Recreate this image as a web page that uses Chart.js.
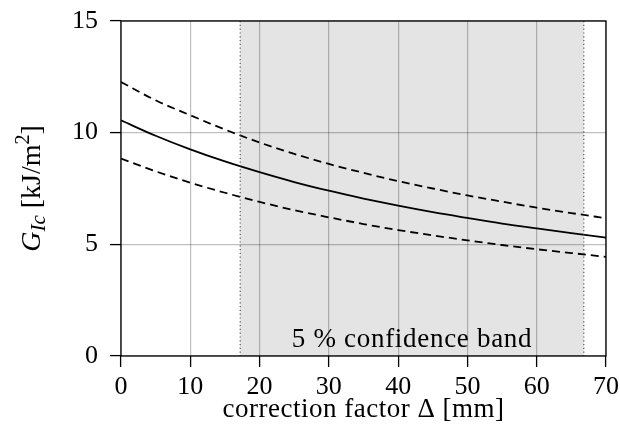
<!DOCTYPE html>
<html>
<head>
<meta charset="utf-8">
<script src="https://cdn.jsdelivr.net/npm/chart.js@4.4.1/dist/chart.umd.min.js"></script>
<style>
  html, body { margin: 0; padding: 0; background: #fff; }
  #wrap { width: 620px; height: 430px; }
</style>
</head>
<body>
<div id="wrap"><canvas id="c" width="620" height="430"></canvas></div>
<script>
// ---- data ----
const deltaMM   = [0, 5, 10, 15, 20, 25, 30, 35, 40, 45, 50, 55, 60, 65, 70];
const gMean     = [10.55, 9.86, 9.25, 8.71, 8.23, 7.79, 7.40, 7.05, 6.73, 6.44, 6.18, 5.93, 5.71, 5.50, 5.30];
const gUpper    = [12.27, 11.45, 10.78, 10.14, 9.56, 9.05, 8.60, 8.20, 7.83, 7.50, 7.19, 6.91, 6.64, 6.40, 6.17];
const gLower    = [8.84, 8.27, 7.76, 7.31, 6.90, 6.53, 6.21, 5.91, 5.64, 5.40, 5.18, 4.97, 4.78, 4.61, 4.44];
const bandRange = [17.2, 66.8];
const bandLabel = '5 % confidence band';
const xTicks    = [0, 10, 20, 30, 40, 50, 60, 70];
const yTicks    = [0, 5, 10, 15];
const xTitle    = 'correction factor Δ [mm]';

const FONT = '"Liberation Serif", "Times New Roman", serif';
const pts = ys => deltaMM.map((x, i) => ({ x, y: ys[i] }));
const noPad = s => { s.paddingLeft = 0; s.paddingRight = 0; s.paddingTop = 0; s.paddingBottom = 0; };

const bandPlugin = {
  id: 'band',
  beforeDraw(chart) {
    const { ctx, chartArea: a, scales: { x } } = chart;
    const x0 = x.getPixelForValue(bandRange[0]);
    const x1 = x.getPixelForValue(bandRange[1]);
    ctx.save();
    ctx.fillStyle = '#e4e4e4';
    ctx.fillRect(x0, a.top, x1 - x0, a.bottom - a.top);
    ctx.restore();
  },
  afterDatasetsDraw(chart) {
    const { ctx, chartArea: a, scales: { x } } = chart;
    const x0 = x.getPixelForValue(bandRange[0]);
    const x1 = x.getPixelForValue(bandRange[1]);
    ctx.save();
    ctx.strokeStyle = '#444';
    ctx.lineWidth = 1.1;
    ctx.setLineDash([1.2, 2.6]);
    [x0, x1].forEach(px => {
      ctx.beginPath();
      ctx.moveTo(px, a.top);
      ctx.lineTo(px, a.bottom);
      ctx.stroke();
    });
    ctx.setLineDash([]);
    // band label
    ctx.fillStyle = '#000';
    ctx.font = '27px ' + FONT;
    ctx.letterSpacing = '0.7px';
    ctx.textAlign = 'center';
    ctx.textBaseline = 'alphabetic';
    ctx.fillText(bandLabel, (x0 + x1) / 2, a.bottom - 9);
    ctx.letterSpacing = '0px';
    // frame
    ctx.strokeStyle = '#000';
    ctx.lineWidth = 1.3;
    ctx.strokeRect(a.left, a.top, a.right - a.left, a.bottom - a.top);
    ctx.restore();
  },
  afterDraw(chart) {
    const { ctx, chartArea: a } = chart;
    ctx.save();
    ctx.fillStyle = '#000';
    // x title
    ctx.font = '27px ' + FONT;
    ctx.letterSpacing = '0.5px';
    ctx.textAlign = 'center';
    ctx.textBaseline = 'alphabetic';
    ctx.fillText(xTitle, (a.left + a.right) / 2, 417);
    ctx.letterSpacing = '0px';
    // y title (rotated, mixed styles)
    const parts = [
      { t: 'G', f: 'italic 28px ' + FONT, dy: 0 },
      { t: 'Ic', f: 'italic 21px ' + FONT, dy: 5 },
      { t: ' [kJ/m', f: '28px ' + FONT, dy: 0 },
      { t: '2', f: '20px ' + FONT, dy: -11 },
      { t: ']', f: '28px ' + FONT, dy: 0 }
    ];
    let total = 0;
    parts.forEach(p => { ctx.font = p.f; p.w = ctx.measureText(p.t).width; total += p.w; });
    ctx.translate(40, (a.top + a.bottom) / 2);
    ctx.rotate(-Math.PI / 2);
    ctx.textAlign = 'left';
    let cx = -total / 2;
    parts.forEach(p => { ctx.font = p.f; ctx.fillText(p.t, cx, p.dy); cx += p.w; });
    ctx.restore();
  }
};

new Chart(document.getElementById('c'), {
  type: 'line',
  data: {
    datasets: [
      { label: 'upper', data: pts(gUpper), borderColor: '#000', borderWidth: 1.8, borderDash: [8, 5], pointRadius: 0, tension: 0.4, cubicInterpolationMode: 'monotone', fill: false },
      { label: 'mean',  data: pts(gMean),  borderColor: '#000', borderWidth: 1.8, pointRadius: 0, tension: 0.4, cubicInterpolationMode: 'monotone', fill: false },
      { label: 'lower', data: pts(gLower), borderColor: '#000', borderWidth: 1.8, borderDash: [8, 5], pointRadius: 0, tension: 0.4, cubicInterpolationMode: 'monotone', fill: false }
    ]
  },
  options: {
    responsive: false,
    animation: false,
    devicePixelRatio: 1,
    layout: { padding: { top: 21, right: 14, left: 0, bottom: 0 } },
    plugins: { legend: { display: false }, tooltip: { enabled: false } },
    scales: {
      x: {
        type: 'linear', min: 0, max: 70,
        afterBuildTicks: s => { s.ticks = xTicks.map(v => ({ value: v })); },
        afterFit: s => { s.height = 74; noPad(s); },
        grid: { color: 'rgba(0,0,0,0.25)', lineWidth: 1.2, tickColor: '#000', tickLength: 11, tickWidth: 1.3 },
        border: { display: false },
        ticks: { color: '#000', font: { family: FONT, size: 26 }, padding: 5, maxRotation: 0 }
      },
      y: {
        type: 'linear', min: 0, max: 15,
        afterBuildTicks: s => { s.ticks = yTicks.map(v => ({ value: v })); },
        afterFit: s => { s.width = 121; noPad(s); },
        grid: { color: 'rgba(0,0,0,0.25)', lineWidth: 1.2, tickColor: '#000', tickLength: 11, tickWidth: 1.3 },
        border: { display: false },
        ticks: { color: '#000', font: { family: FONT, size: 26 }, padding: 12 }
      }
    }
  },
  plugins: [bandPlugin]
});
</script>
</body>
</html>
